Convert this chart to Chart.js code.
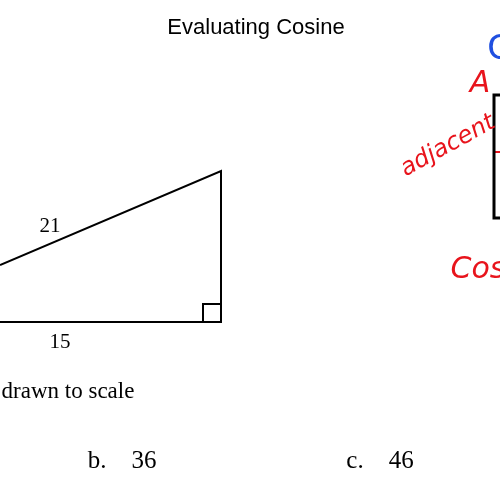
<!DOCTYPE html>
<html><head><script src="https://cdn.jsdelivr.net/npm/chart.js@4/dist/chart.umd.min.js"></script>
<style>html,body{margin:0;padding:0;background:#fff}#w{width:500px;height:500px}</style></head>
<body><div id="w"><canvas id="c"></canvas></div>
<script>
const triangleX = [0, 221, 221, 0];
const triangleY = [265, 171, 322, 322];
const boxX = [203, 203, 221];
const boxY = [322, 304, 304];
const rectX = [500, 494, 494, 500];
const rectY = [95, 95, 218, 218];
const labels = [
  {t:'Evaluating Cosine', x:256, y:28, s:22, c:'#000', f:'Liberation Sans'},
  {t:'21', x:50, y:226, s:21, c:'#000', f:'Liberation Serif'},
  {t:'15', x:60, y:342, s:21, c:'#000', f:'Liberation Serif'},
  {t:'drawn to scale', x:68, y:392, s:23, c:'#000', f:'Liberation Serif'},
  {t:'b.    36', x:122, y:461, s:25, c:'#000', f:'Liberation Serif'},
  {t:'c.    46', x:380, y:461, s:25, c:'#000', f:'Liberation Serif'}
];
const pts = (xs, ys) => xs.map((x,i)=>({x, y:ys[i]}));
const hand = {
  id:'hand',
  afterDraw(ch){
    const g = ch.ctx, sx = ch.scales.x, sy = ch.scales.y;
    g.save();
    g.textAlign='center'; g.textBaseline='middle';
    labels.forEach(l=>{g.fillStyle=l.c; g.font=l.s+'px "'+l.f+'"'; g.fillText(l.t, sx.getPixelForValue(l.x), sy.getPixelForValue(l.y));});
    g.fillStyle='#e8141c'; g.font='italic 30px "DejaVu Sans"';
    g.fillText('A', sx.getPixelForValue(480), sy.getPixelForValue(84));
    g.fillText('Cos', sx.getPixelForValue(478), sy.getPixelForValue(270));
    g.save(); g.translate(sx.getPixelForValue(448), sy.getPixelForValue(146)); g.rotate(-0.5);
    g.font='italic 24px "DejaVu Sans"'; g.fillText('adjacent',0,0); g.restore();
    g.fillStyle='#1f4fe0'; g.font='34px "DejaVu Sans"';
    g.fillText('C', sx.getPixelForValue(499), sy.getPixelForValue(50));
    g.restore();
  }
};
new Chart(document.getElementById('c'), {
  type:'scatter',
  data:{datasets:[
    {data:pts(triangleX, triangleY), showLine:true, borderColor:'#000', borderWidth:2, pointRadius:0},
    {data:pts(boxX, boxY), showLine:true, borderColor:'#000', borderWidth:2, pointRadius:0},
    {data:pts(rectX, rectY), showLine:true, borderColor:'#000', borderWidth:3, pointRadius:0},
    {data:pts([494,500],[152,152]), showLine:true, borderColor:'#e8141c', borderWidth:2, pointRadius:0}
  ]},
  options:{responsive:true, maintainAspectRatio:false, animation:false,
    layout:{padding:0},
    plugins:{legend:{display:false}, tooltip:{enabled:false}},
    scales:{x:{type:'linear', min:0, max:500, display:false}, y:{type:'linear', min:0, max:500, reverse:true, display:false}}},
  plugins:[hand]
});
</script></body></html>
